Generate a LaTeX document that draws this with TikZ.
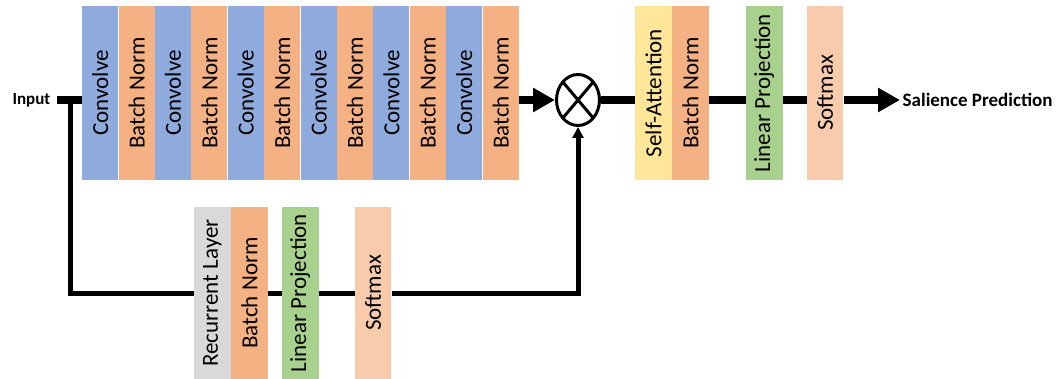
\documentclass[tikz,border=0pt]{standalone}
\usepackage{fontspec}
\setmainfont{Carlito}
\usepackage{graphicx}
\usetikzlibrary{arrows.meta,positioning,shapes.geometric}

\definecolor{convblue}{HTML}{8FAADC}
\definecolor{normorange}{HTML}{F4B183}
\definecolor{attnyellow}{HTML}{FFE699}
\definecolor{projgreen}{HTML}{A9D18E}
\definecolor{smaxpeach}{HTML}{F8CBAD}
\definecolor{rnngray}{HTML}{D9D9D9}

\newcommand{\vtext}[1]{\rotatebox{90}{#1}}

\begin{document}
\begin{tikzpicture}[x=1pt, y=-1pt,
  layer/.style={rectangle, inner sep=0pt, minimum width=36pt, minimum height=174pt, font=\fontsize{23}{23}\selectfont},
  lowlayer/.style={layer, minimum width=36.5pt, minimum height=172pt},
  conv/.style={layer, fill=convblue},
  bnorm/.style={layer, fill=normorange},
  attn/.style={layer, minimum width=36.5pt, fill=attnyellow},
  proj/.style={layer, minimum width=36.5pt, fill=projgreen},
  smax/.style={layer, minimum width=36.5pt, fill=smaxpeach},
  rnn/.style={lowlayer, fill=rnngray},
  trunk/.style={line width=7.5pt},
  flow/.style={trunk, -{Triangle[length=22pt, width=23pt]}},
  skip/.style={line width=5pt},
  skipflow/.style={skip, -{Triangle[length=11pt, width=11pt]}},
  mult/.style={draw, ellipse, line width=3pt, minimum width=43pt, minimum height=51pt, inner sep=0pt,
    path picture={\draw (path picture bounding box.north west) -- (path picture bounding box.south east)
      (path picture bounding box.north east) -- (path picture bounding box.south west);}},
  iotext/.style={inner ysep=0pt, font=\bfseries}
]
\useasboundingbox (0,0) rectangle (1062,379);

\node[iotext, inner xsep=6.5pt, anchor=east, font=\fontsize{17}{17}\selectfont\bfseries] (in) at (57,100) {Input};
\coordinate (split) at (70.5,100);

\node[conv, anchor=west] (cv1) at (82,93) {\vtext{Convolve}};
\node[bnorm, right=0pt of cv1] (bn1) {\vtext{Batch Norm}};
\node[conv, right=0pt of bn1] (cv2) {\vtext{Convolve}};
\node[bnorm, right=0pt of cv2] (bn2) {\vtext{Batch Norm}};
\node[conv, right=0pt of bn2] (cv3) {\vtext{Convolve}};
\node[bnorm, right=0pt of cv3] (bn3) {\vtext{Batch Norm}};
\node[conv, right=0pt of bn3] (cv4) {\vtext{Convolve}};
\node[bnorm, right=0pt of cv4] (bn4) {\vtext{Batch Norm}};
\node[conv, right=0pt of bn4] (cv5) {\vtext{Convolve}};
\node[bnorm, right=0pt of cv5] (bn5) {\vtext{Batch Norm}};
\node[conv, right=0pt of bn5] (cv6) {\vtext{Convolve}};
\node[bnorm, right=0pt of cv6] (bn6) {\vtext{Batch Norm}};

\node[mult] (mul) at (578,100) {};

\node[attn, anchor=west] (sa) at (635,93) {\vtext{Self-Attention}};
\node[bnorm, minimum width=36.5pt, right=0pt of sa] (bn7) {\vtext{Batch Norm}};
\node[proj, right=37pt of bn7] (lp1) {\vtext{Linear Projection}};
\node[smax, right=24pt of lp1] (sm1) {\vtext{Softmax}};
\node[iotext, inner xsep=2.5pt, anchor=west, font=\fontsize{19}{19}\selectfont\bfseries] (out) at (900,100) {Salience Prediction};

\node[rnn, anchor=west] (rl) at (194,293) {\vtext{Recurrent Layer}};
\node[lowlayer, fill=normorange, right=0pt of rl] (bn8) {\vtext{Batch Norm}};
\node[lowlayer, fill=projgreen, right=14pt of bn8] (lp2) {\vtext{Linear Projection}};
\node[lowlayer, fill=smaxpeach, right=36pt of lp2] (sm2) {\vtext{Softmax}};

\draw[trunk] (in.east) -- (cv1.west |- in);
\draw[flow] (bn6.east |- mul) -- (mul);
\draw[trunk] (mul) -- (sa.west |- mul);
\draw[trunk] (bn7.east |- mul) -- (lp1.west |- mul);
\draw[trunk] (lp1.east |- mul) -- (sm1.west |- mul);
\draw[flow] (sm1.east |- mul) -- (out.west);

\draw[skip] (split) |- (rl.west);
\draw[skip] (bn8.east) -- (lp2.west);
\draw[skip] (lp2.east) -- (sm2.west);
\draw[skipflow] (sm2.east) -| (mul.south);
\end{tikzpicture}
\end{document}
